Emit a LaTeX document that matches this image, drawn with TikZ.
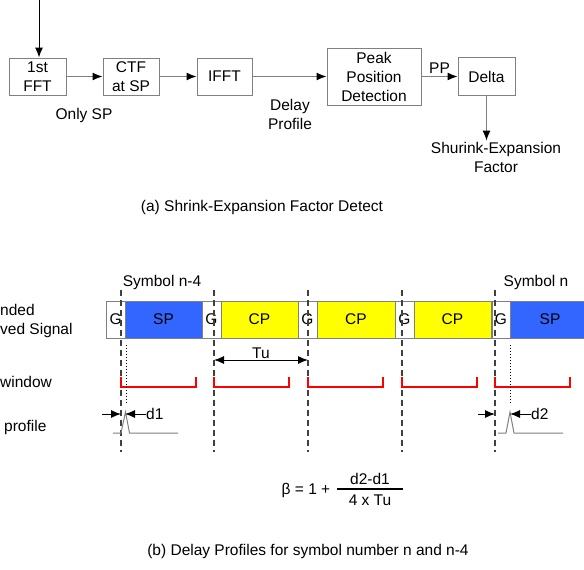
\documentclass[tikz,border=0pt]{standalone}
\usepackage{fontspec}
\setmainfont{Liberation Sans}
\usetikzlibrary{arrows.meta}
\definecolor{lngray}{RGB}{128,128,128}
\definecolor{spblue}{RGB}{51,102,255}
\definecolor{cpyellow}{RGB}{255,255,0}
\definecolor{winred}{RGB}{255,0,0}
\begin{document}
\begin{tikzpicture}[x=1pt,y=-1pt,
  every node/.style={font=\fontsize{15.5}{19}\selectfont},
  blk/.style={draw=lngray,line width=1pt,align=center,inner sep=0pt},
  arr/.style={draw=lngray,line width=1.2pt,-{Latex[color=black,length=10pt,width=8pt]}},
  sig/.style={draw=lngray,line width=1pt,minimum height=37pt,inner sep=0pt},
  dim/.style={black,line width=1pt,-{Latex[length=10pt,width=8pt]}},
  cut/.style={black!75,line width=1.1pt,dash pattern=on 6pt off 4pt},
  fftwin/.style={winred,line width=1.8pt},
  prof/.style={lngray,line width=1pt}]
\useasboundingbox (0,0) rectangle (584,570);
\clip (0,0) rectangle (584,570);
% (a) block diagram
\node[blk,minimum width=57pt,minimum height=37pt] (fft) at (37.5,76.5) {1st\\FFT};
\node[blk,minimum width=56pt,minimum height=37pt] (ctf) at (131,76.5) {CTF\\at SP};
\node[blk,minimum width=55pt,minimum height=37pt] (ifft) at (224.5,76.5) {IFFT};
\node[blk,minimum width=94pt,minimum height=57pt] (peak) at (374,76.5) {Peak\\Position\\Detection};
\node[blk,minimum width=57pt,minimum height=38pt] (delta) at (486.5,76.5) {Delta};
\node[align=center,inner sep=1pt] (sef) at (496,157) {Shurink-Expansion\\Factor};
\coordinate (in) at (39,0);
\draw[black,line width=1pt,-{Latex[length=10pt,width=8pt]}] (in) -- (in |- fft.north);
\draw[arr] (fft) -- (ctf);
\draw[arr] (ctf) -- (ifft);
\draw[arr] (ifft) -- (peak);
\draw[arr] (peak) -- node[above,inner sep=2pt] (pp) {PP} (delta);
\draw[arr] (delta) -- (delta |- sef.north);
\node (onlysp) at (84,115) {Only SP};
\node[align=center] (dprof) at (290,114.5) {Delay\\Profile};
\node (capa) at (262,207) {(a) Shrink-Expansion Factor Detect};
% (b) received signal
\node[sig,fill=white,minimum width=18.5pt] (g1) at (115.75,319.5) {G};
\node[sig,fill=spblue,minimum width=77pt] (sp1) at (163.5,319.5) {SP};
\node[sig,fill=white,minimum width=19pt] (g2) at (211.5,319.5) {G};
\node[sig,fill=cpyellow,minimum width=77pt] (cp1) at (259.5,319.5) {CP};
\node[sig,fill=white,minimum width=19pt] (g3) at (307.5,319.5) {G};
\node[sig,fill=cpyellow,minimum width=78pt] (cp2) at (356,319.5) {CP};
\node[sig,fill=white,minimum width=19pt] (g4) at (404.5,319.5) {G};
\node[sig,fill=cpyellow,minimum width=77pt] (cp3) at (452.5,319.5) {CP};
\node[sig,fill=white,minimum width=18pt] (g5) at (501,319.5) {G};
\node[sig,fill=spblue,minimum width=80pt] (sp2) at (550,319.5) {SP};
\node[align=left,anchor=west,inner sep=0pt] (rxlbl) at (0,321) {nded\\ved Signal};
\node[anchor=west,inner sep=0pt] (winlbl) at (0,382) {window};
\node[anchor=west,inner sep=0pt] (proflbl) at (4,427) {profile};
\node (symn4) at (162,282) {Symbol n-4};
\node (symn) at (536,282) {Symbol n};
% symbol borders and FFT windows
\foreach \x in {121,214,308,402,495} {
  \draw[cut] (\x,290) -- (\x,452);
  \draw[fftwin] (\x,377) -- (\x,387) -- (\x+75,387) -- (\x+75,377);
}
\draw[black,line width=1pt,dotted] (126,345) -- (126,403);
\draw[black,line width=1pt,dotted] (510,345) -- (510,403);
% Tu
\coordinate (tuL) at (214,360);
\coordinate (tuR) at (308,360);
\draw[black,line width=1pt,{Latex[length=10pt,width=8pt]}-{Latex[length=10pt,width=8pt]}] (tuL) -- node[above,inner sep=1pt] (tu) {Tu} (tuR);
% delay profiles
\draw[prof] (113,433) -- (121,433) -- (125.5,412) -- (129.5,433) -- (178,433);
\draw[prof] (498,433) -- (506,433) -- (510,412) -- (514,433) -- (563,433);
\node[anchor=west,inner sep=0pt] (d1) at (146,414) {d1};
\node[anchor=west,inner sep=0pt] (d2) at (531,414) {d2};
\coordinate (d1a) at (102,414);
\coordinate (d1b) at (121,414);
\coordinate (d1c) at (125,414);
\draw[dim] (d1a) -- (d1b);
\draw[dim] (d1.west) -- (d1c);
\coordinate (d2a) at (478,414);
\coordinate (d2b) at (495,414);
\coordinate (d2c) at (510,414);
\draw[dim] (d2a) -- (d2b);
\draw[dim] (d2.west) -- (d2c);
% beta
\node (beta) at (306,490) {β = 1 +};
\node (num) at (370,479) {d2-d1};
\node (den) at (370,500) {4 x Tu};
\coordinate (barL) at (337,489);
\coordinate (barR) at (403,489);
\draw[black,line width=1.4pt] (barL) -- (barR);
\node (capb) at (308,551) {(b) Delay Profiles for symbol number n and n-4};
\end{tikzpicture}
\end{document}
